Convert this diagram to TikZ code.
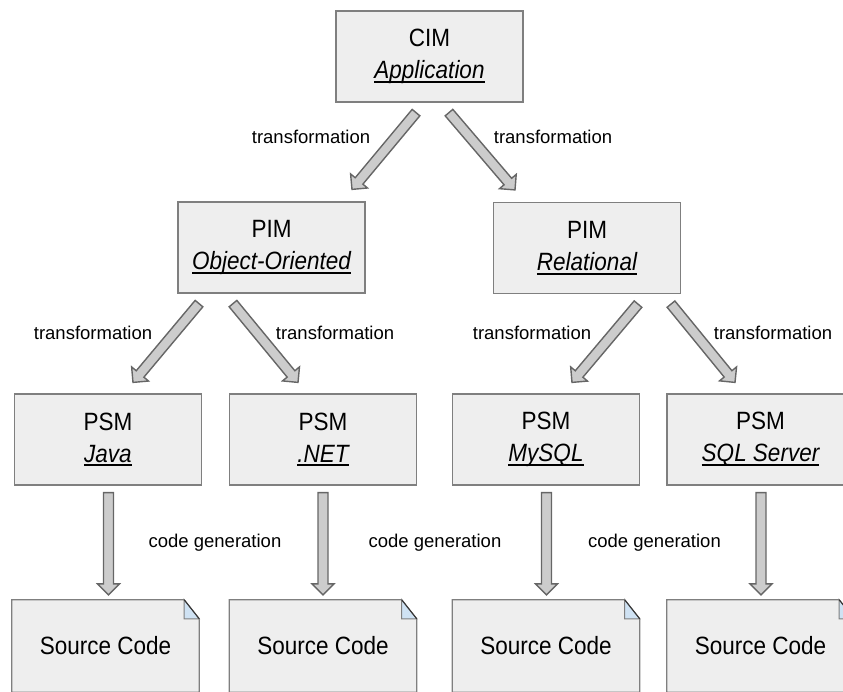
\documentclass[tikz,border=0pt]{standalone}
\usepackage{fontspec}
\setmainfont{Liberation Sans}
\newfontfamily\boxfont[FakeStretch=0.9]{Liberation Sans}
\usetikzlibrary{calc}
\definecolor{boxfill}{HTML}{EEEEEE}
\definecolor{boxline}{HTML}{7F7F7F}
\definecolor{arrfill}{HTML}{CCCCCC}
\definecolor{arrline}{HTML}{666666}
\definecolor{foldblue}{HTML}{CFE2F3}
\newcommand\ulin[1]{\setbox0=\hbox{#1}\leavevmode\rlap{\raisebox{-4pt}{\rule{\wd0}{2pt}}}\box0}
\newcommand\blockarrow[2]{%
  \coordinate (bC) at ($(#2)!11pt!(#1)$);
  \filldraw[blockarrow] ($(#1)!5pt!90:(#2)$) -- ($(bC)!5pt!-90:(#1)$) -- ($(bC)!11pt!-90:(#1)$) -- (#2)
    -- ($(bC)!11pt!90:(#1)$) -- ($(bC)!5pt!90:(#1)$) -- ($(#1)!5pt!-90:(#2)$) -- cycle;}
\newcommand\srcbox[1]{%
  \filldraw[boxshape] (#1.south west) -- (#1.north west) -- ($(#1.north east)+(-15,0)$)
    -- ($(#1.north east)+(0,19)$) -- (#1.south east) -- cycle;
  \filldraw[fold] ($(#1.north east)+(-15,0)$) -- ($(#1.north east)+(-15,19)$) -- ($(#1.north east)+(0,19)$) -- cycle;
  \draw[foldedge] ($(#1.north east)+(-15,0)$) -- ($(#1.north east)+(0,19)$);}
\tikzset{
  box/.style={draw=boxline, fill=boxfill, line width=1.2pt, minimum width=187pt, minimum height=91pt,
    inner sep=0pt, align=center, font=\boxfont\fontsize{25}{32}\selectfont},
  srcnode/.style={minimum width=187pt, minimum height=92pt, inner sep=0pt,
    font=\boxfont\fontsize{25}{32}\selectfont},
  boxshape/.style={draw=boxline, fill=boxfill, line width=1.2pt},
  fold/.style={draw=boxline, fill=foldblue, line width=1pt},
  foldedge/.style={draw=black!80, line width=1pt},
  blockarrow/.style={draw=arrline, fill=arrfill, line width=1.4pt, line join=miter},
  lbl/.style={inner sep=0pt, font=\fontsize{18.5}{22}\selectfont}
}
\begin{document}
\begin{tikzpicture}[x=1pt, y=-1pt]
\useasboundingbox (0,0) rectangle (843,691);
\clip (0,0) rectangle (843,691);
% boxes
\node[box] (cim) at (429.5,56.5) {CIM\\\ulin{\itshape Application}};
\node[box] (pim1) at (271.5,247.5) {PIM\\\ulin{\itshape Object-Oriented}};
\node[box] (pim2) at (587,248) {PIM\\\ulin{\itshape Relational}};
\node[box] (psm1) at (108,439.5) {PSM\\\ulin{\itshape Java}};
\node[box] (psm2) at (323,439.5) {PSM\\\ulin{\itshape .NET}};
\node[box] (psm3) at (546,439.5) {PSM\\\ulin{\itshape MySQL}};
\node[box] (psm4) at (760.5,439.5) {PSM\\\ulin{\itshape SQL Server}};
% source code documents
\node[srcnode] (src1) at (105.5,646) {};
\node[srcnode] (src2) at (323,646) {};
\node[srcnode] (src3) at (546,646) {};
\node[srcnode] (src4) at (760.5,646) {};
\srcbox{src1}\srcbox{src2}\srcbox{src3}\srcbox{src4}
\node[srcnode] at (src1) {Source Code};
\node[srcnode] at (src2) {Source Code};
\node[srcnode] at (src3) {Source Code};
\node[srcnode] at (src4) {Source Code};
% arrow end points
\coordinate (a1s) at ($(cim.south)+(-13.5,10)$);
\coordinate (a1e) at ($(pim1.north)+(80.5,-12)$);
\coordinate (a2s) at ($(cim.south)+(19.5,10)$);
\coordinate (a2e) at ($(pim2.north)+(-72,-12)$);
\coordinate (a3s) at ($(pim1.south)+(-72.5,10)$);
\coordinate (a3e) at ($(psm1.north)+(25,-11)$);
\coordinate (a4s) at ($(pim1.south)+(-38.5,10)$);
\coordinate (a4e) at ($(psm2.north)+(-25,-11)$);
\coordinate (a5s) at ($(pim2.south)+(51,10)$);
\coordinate (a5e) at ($(psm3.north)+(26,-11)$);
\coordinate (a6s) at ($(pim2.south)+(84,10)$);
\coordinate (a6e) at ($(psm4.north)+(-25.5,-11)$);
\coordinate (v1s) at ($(psm1.south)+(0.5,7)$);
\coordinate (v1e) at ($(src1.north)+(3,-5)$);
\coordinate (v2s) at ($(psm2.south)+(0,7)$);
\coordinate (v2e) at ($(src2.north)+(0,-5)$);
\coordinate (v3s) at ($(psm3.south)+(0.5,7)$);
\coordinate (v3e) at ($(src3.north)+(0.5,-5)$);
\coordinate (v4s) at ($(psm4.south)+(0.5,7)$);
\coordinate (v4e) at ($(src4.north)+(0.5,-5)$);
\blockarrow{a1s}{a1e}
\blockarrow{a2s}{a2e}
\blockarrow{a3s}{a3e}
\blockarrow{a4s}{a4e}
\blockarrow{a5s}{a5e}
\blockarrow{a6s}{a6e}
\blockarrow{v1s}{v1e}
\blockarrow{v2s}{v2e}
\blockarrow{v3s}{v3e}
\blockarrow{v4s}{v4e}
% labels
\node[lbl] (t1) at (311,137) {transformation};
\node[lbl] (t2) at (553,137) {transformation};
\node[lbl] (t3) at (93,333) {transformation};
\node[lbl] (t4) at (335,333) {transformation};
\node[lbl] (t5) at (532,333) {transformation};
\node[lbl] (t6) at (773,333) {transformation};
\node[lbl] (c1) at (215,543) {code generation};
\node[lbl] (c2) at (435,543) {code generation};
\node[lbl] (c3) at (654.5,543) {code generation};
\end{tikzpicture}
\end{document}
